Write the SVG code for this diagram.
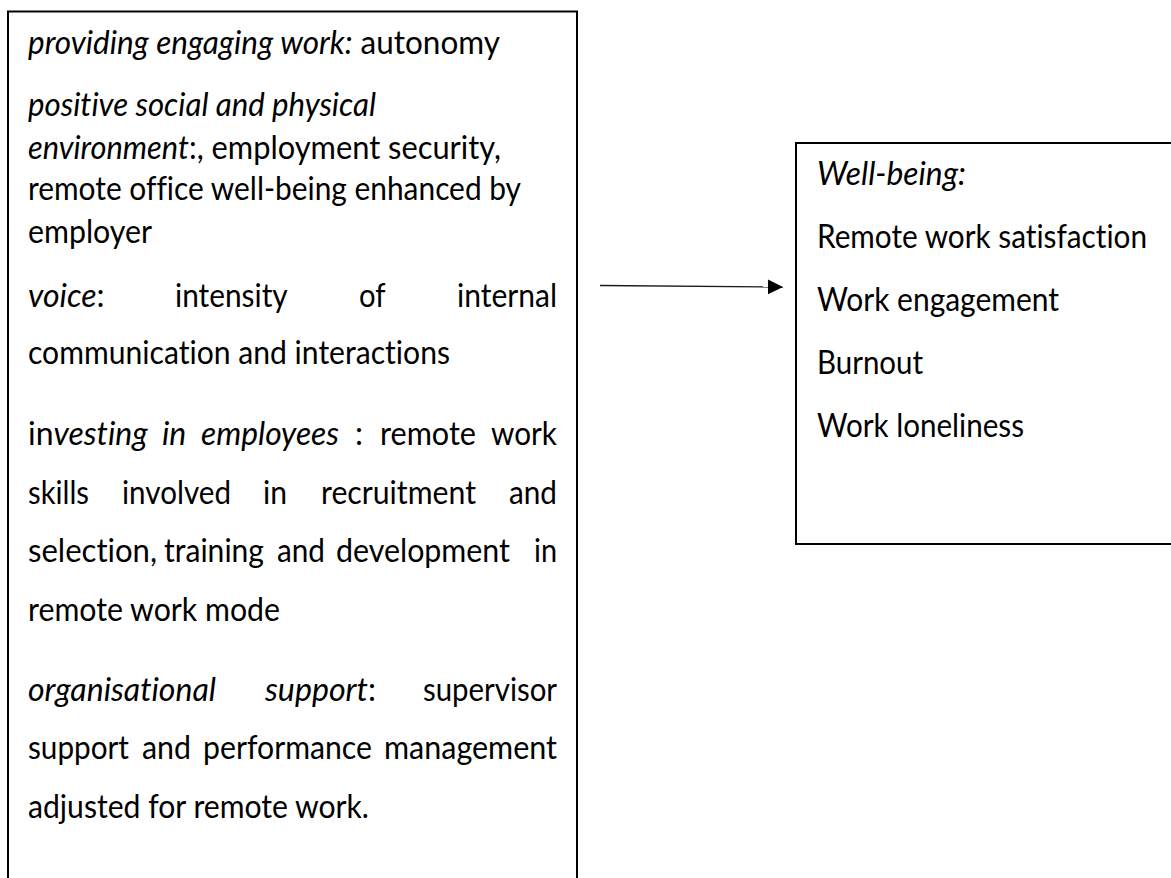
<svg xmlns="http://www.w3.org/2000/svg" width="1171" height="878" viewBox="0 0 1171 878">
  <style>
    .box { fill: #ffffff; stroke: #000000; stroke-width: 2; }
    .t { font-family: Lato, "Open Sans", "Liberation Sans", sans-serif; font-size: 32px; fill: #000000; font-variant-ligatures: none; font-feature-settings: "liga" 0, "clig" 0; }
    .i { font-style: italic; }
    .conn { stroke: #1a1a1a; stroke-width: 1.3; fill: none; }
  </style>
  <defs>
    <marker id="arrowhead" markerUnits="userSpaceOnUse" markerWidth="16" markerHeight="16" refX="15" refY="7.5" orient="auto">
      <path d="M0,0 L15,7.5 L0,15 Z" fill="#000000"/>
    </marker>
  </defs>
  <rect width="1171" height="878" fill="#ffffff"/>

  <!-- HR practice bundle -->
  <g id="practices">
    <rect class="box" x="8" y="11.5" width="569" height="900"/>
    <text class="t" x="28" y="54" textLength="472" lengthAdjust="spacingAndGlyphs"><tspan class="i">providing engaging work:</tspan> autonomy</text>
    <text class="t i" x="28" y="116" textLength="348" lengthAdjust="spacingAndGlyphs">positive social and physical</text>
    <text class="t" x="28" y="158.5" textLength="473" lengthAdjust="spacingAndGlyphs"><tspan class="i">environment</tspan>:, employment security,</text>
    <text class="t" x="28" y="200" textLength="493" lengthAdjust="spacingAndGlyphs">remote office well-being enhanced by</text>
    <text class="t" x="28" y="242.5" textLength="124" lengthAdjust="spacingAndGlyphs">employer</text>

    <text class="t" y="307">
      <tspan x="28" class="i">voice</tspan><tspan>:</tspan>
      <tspan x="175" textLength="112" lengthAdjust="spacingAndGlyphs">intensity</tspan>
      <tspan x="359" textLength="26" lengthAdjust="spacingAndGlyphs">of</tspan>
      <tspan x="457" textLength="100" lengthAdjust="spacingAndGlyphs">internal</tspan>
    </text>
    <text class="t" x="28" y="364" textLength="422" lengthAdjust="spacingAndGlyphs">communication and interactions</text>

    <text class="t" y="445">
      <tspan x="28">in</tspan><tspan class="i">vesting</tspan>
      <tspan x="162" class="i">in</tspan>
      <tspan x="201" class="i" textLength="138" lengthAdjust="spacingAndGlyphs">employees</tspan>
      <tspan x="355">:</tspan>
      <tspan x="380" textLength="96" lengthAdjust="spacingAndGlyphs">remote</tspan>
      <tspan x="491" textLength="66" lengthAdjust="spacingAndGlyphs">work</tspan>
    </text>
    <text class="t" y="504">
      <tspan x="28" textLength="61" lengthAdjust="spacingAndGlyphs">skills</tspan>
      <tspan x="122" textLength="109" lengthAdjust="spacingAndGlyphs">involved</tspan>
      <tspan x="263" textLength="24" lengthAdjust="spacingAndGlyphs">in</tspan>
      <tspan x="321" textLength="155" lengthAdjust="spacingAndGlyphs">recruitment</tspan>
      <tspan x="509" textLength="48" lengthAdjust="spacingAndGlyphs">and</tspan>
    </text>
    <text class="t" y="562">
      <tspan x="28" textLength="129" lengthAdjust="spacingAndGlyphs">selection,</tspan>
      <tspan x="164" textLength="100" lengthAdjust="spacingAndGlyphs">training</tspan>
      <tspan x="277" textLength="48" lengthAdjust="spacingAndGlyphs">and</tspan>
      <tspan x="336" textLength="174" lengthAdjust="spacingAndGlyphs">development</tspan>
      <tspan x="534" textLength="23" lengthAdjust="spacingAndGlyphs">in</tspan>
    </text>
    <text class="t" x="28" y="620.5" textLength="252" lengthAdjust="spacingAndGlyphs">remote work mode</text>

    <text class="t" y="701">
      <tspan x="28" class="i" textLength="188" lengthAdjust="spacingAndGlyphs">organisational</tspan>
      <tspan x="265" class="i" textLength="103" lengthAdjust="spacingAndGlyphs">support</tspan><tspan>:</tspan>
      <tspan x="423" textLength="134" lengthAdjust="spacingAndGlyphs">supervisor</tspan>
    </text>
    <text class="t" y="759">
      <tspan x="28" textLength="101" lengthAdjust="spacingAndGlyphs">support</tspan>
      <tspan x="142" textLength="49" lengthAdjust="spacingAndGlyphs">and</tspan>
      <tspan x="203" textLength="169" lengthAdjust="spacingAndGlyphs">performance</tspan>
      <tspan x="384" textLength="173" lengthAdjust="spacingAndGlyphs">management</tspan>
    </text>
    <text class="t" x="28" y="817.6" textLength="341" lengthAdjust="spacingAndGlyphs">adjusted for remote work.</text>
  </g>

  <!-- Outcomes -->
  <g id="wellbeing">
    <rect class="box" x="796" y="143" width="400" height="401"/>
    <text class="t i" x="817" y="185" textLength="149" lengthAdjust="spacingAndGlyphs">Well-being:</text>
    <text class="t" x="817" y="248" textLength="330" lengthAdjust="spacingAndGlyphs">Remote work satisfaction</text>
    <text class="t" x="817" y="311" textLength="242" lengthAdjust="spacingAndGlyphs">Work engagement</text>
    <text class="t" x="817" y="374" textLength="106" lengthAdjust="spacingAndGlyphs">Burnout</text>
    <text class="t" x="817" y="437" textLength="207" lengthAdjust="spacingAndGlyphs">Work loneliness</text>
  </g>

  <g id="connectors">
    <line class="conn" x1="600" y1="285.5" x2="783" y2="287" marker-end="url(#arrowhead)"/>
  </g>
</svg>
